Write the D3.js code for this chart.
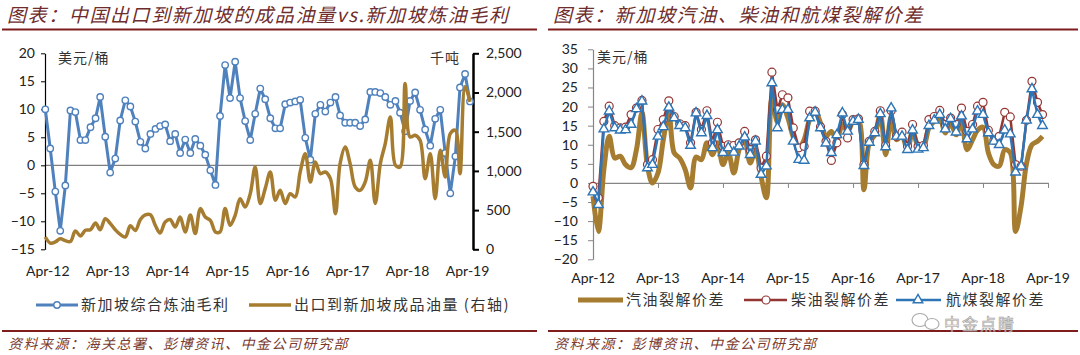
<!DOCTYPE html>
<html><head><meta charset="utf-8">
<script src="https://cdn.jsdelivr.net/npm/d3@7"></script>
<style>
body{margin:0;background:#fff;}
svg{display:block;}
</style></head><body>
<svg id="c" width="1080" height="355"></svg>
<script>
// ---------------- DATA ----------------
// Left chart: monthly, Apr-12 .. May-19
const marginVals = [10.0,3.0,-4.7,-11.7,-3.6,9.8,9.5,4.5,4.5,6.8,8.4,12.2,5.1,-1.3,1.2,8.0,11.6,10.5,7.8,4.2,
  3.0,5.6,6.5,7.0,7.3,4.3,5.6,2.2,4.6,2.2,4.7,3.5,1.9,-0.9,-3.5,8.8,17.9,12.0,18.5,12.0,
  7.9,4.5,9.2,13.7,11.8,8.4,6.6,6.6,10.9,11.2,11.4,11.7,4.9,1.0,9.2,10.8,9.6,11.2,12.2,8.9,
  7.6,7.6,7.6,7.0,8.2,13.1,13.1,12.9,12.2,10.8,11.5,9.4,6.1,11.5,13.0,9.9,6.4,3.5,8.3,9.9,
  2.2,-5.0,1.6,13.9,16.3,11.4];
const exportVols = [157,80,94,136,110,100,234,170,242,250,336,250,391,330,250,190,157,300,240,380,
  440,440,300,208,349,380,285,412,221,437,200,519,412,370,221,221,519,306,434,646,
  540,710,1050,583,774,986,625,752,583,710,667,986,1220,858,1113,965,986,901,455,1093,
  1305,1093,795,752,859,1135,583,1093,1348,1688,1072,1050,2114,1433,1454,1390,901,1220,646,1264,
  922,1475,1517,965,2072,1880];
// Right chart: monthly, Apr-12 .. Mar-19
const gasoline = [-3.5,-12.7,3.5,12.2,6.5,7.0,4.8,4.0,8.7,18.3,4.4,0.0,2.6,11.3,18.3,7.9,6.5,3.5,-1.3,6.8,
  6.1,10.5,7.4,10.5,4.8,7.9,2.6,8.7,11.3,5.2,8.7,1.7,-3.9,22.0,16.0,20.5,17.0,12.0,9.0,11.3,
  16.6,18.8,15.7,12.2,13.5,11.3,15.3,13.5,16.1,16.6,-1.8,10.5,12.6,17.9,7.4,17.4,11.3,12.2,8.7,13.5,
  9.8,9.6,14.4,16.1,17.0,13.1,15.7,12.6,16.1,8.7,11.3,13.8,14.6,7.9,4.8,4.4,8.7,7.9,-12.7,-6.0,
  5.0,10.0,10.9,12.2];
const diesel = [-0.9,-3.9,16.1,20.1,15.0,14.4,14.6,17.9,19.6,21.6,4.8,6.1,14.0,16.6,21.5,17.4,15.5,15.0,10.5,18.5,
  14.0,18.9,10.5,15.9,9.6,10.0,9.8,10.5,13.5,8.7,11.3,3.9,7.0,29.0,19.2,23.1,22.3,14.4,9.2,9.6,
  18.8,18.8,14.7,10.9,5.9,10.5,17.9,11.8,16.6,16.8,4.8,10.9,13.5,18.9,9.8,18.9,12.2,13.3,9.6,15.3,
  9.6,9.8,16.6,17.4,19.0,15.3,17.0,15.3,19.6,13.5,15.3,20.1,21.1,13.8,11.2,12.2,18.5,17.3,4.8,4.4,
  16.4,26.6,21.1,17.9];
const jet = [-2.4,-5.7,14.1,18.8,14.4,13.8,13.9,15.3,19.4,21.4,3.9,4.8,12.2,14.7,19.8,17.0,15.0,14.4,9.8,18.3,
  13.1,17.6,9.2,13.9,7.9,9.2,8.0,9.6,12.0,7.4,10.9,2.2,4.4,26.2,14.4,19.2,19.2,10.9,6.1,5.9,
  17.0,18.5,14.4,10.4,7.9,12.6,18.3,13.5,16.1,16.6,4.5,10.6,13.1,18.1,9.4,19.6,12.2,12.2,8.7,13.8,
  8.8,9.2,15.0,16.4,17.9,14.1,16.8,13.3,17.5,11.5,14.1,18.8,17.9,13.1,10.9,10.0,13.8,12.8,2.8,4.4,
  16.4,24.6,17.9,15.0];
const xTickLabels = ["Apr-12","Apr-13","Apr-14","Apr-15","Apr-16","Apr-17","Apr-18","Apr-19"];
const leftYTicks = [20,15,10,5,0,-5,-10,-15];
const rightYTicks = [0,500,1000,1500,2000,2500];
const crackYTicks = [35,30,25,20,15,10,5,0,-5,-10,-15,-20];
const leftMonths = d3.timeMonth.range(new Date(2012,3,1), new Date(2019,5,1));
const rightMonths = d3.timeMonth.range(new Date(2012,3,1), new Date(2019,3,1));
const tickDates = xTickLabels.map((s,i)=>new Date(2012+i,3,1));

// ---------------- STYLE ----------------
const NUM = "Lato, 'Noto Sans', sans-serif";
const CJK = "'Noto Sans CJK SC', sans-serif";
const TITLE_C = "#6e2c2c", RULE_C = "#7f1d1d", SRC_C = "#7a3b2e";
const BLUE = "#4F81BD", GOLD = "#A67D30", RED = "#943634", JET = "#2E75B6";

const svg = d3.select("#c");

function panelFrame(x0, x1, title, source){
  svg.append("text").attr("x", x0+5).attr("y", 22).text(title)
    .attr("font-family", CJK).attr("font-size", 19).attr("font-style","italic")
    .attr("letter-spacing", 1.6).attr("fill", TITLE_C);
  svg.append("line").attr("x1",x0).attr("x2",x1).attr("y1",29.5).attr("y2",29.5)
    .attr("stroke",RULE_C).attr("stroke-width",2);
  svg.append("line").attr("x1",x0).attr("x2",x1).attr("y1",331).attr("y2",331)
    .attr("stroke",RULE_C).attr("stroke-width",2);
  svg.append("text").attr("x", x0+6).attr("y", 349).text(source)
    .attr("font-family", CJK).attr("font-size", 14).attr("font-style","italic")
    .attr("letter-spacing", 1.5).attr("fill", SRC_C);
}
panelFrame(2, 537, "图表：中国出口到新加坡的成品油量vs.新加坡炼油毛利", "资料来源：海关总署、彭博资讯、中金公司研究部");
panelFrame(548, 1078, "图表：新加坡汽油、柴油和航煤裂解价差", "资料来源：彭博资讯、中金公司研究部");

// ---------------- LEFT CHART ----------------
const xL = d3.scaleTime().domain([leftMonths[0], leftMonths[leftMonths.length-1]]).range([45.3, 470]);
const yL = d3.scaleLinear().domain([-15,20]).range([249.3,53.3]);
const yR = d3.scaleLinear().domain([0,2500]).range([249.3,53.3]);

const gL = svg.append("g");
gL.append("line").attr("x1",45).attr("x2",473).attr("y1",yL(0)).attr("y2",yL(0))
  .attr("stroke","#808080").attr("stroke-width",1.2);

const axL = gL.append("g").attr("transform","translate(45,0)")
  .call(d3.axisLeft(yL).tickValues(leftYTicks).tickSize(4).tickSizeOuter(0).tickPadding(6));
axL.select(".domain").attr("stroke","#000").attr("stroke-width",1.2);
axL.selectAll(".tick line").attr("stroke","#000");
axL.selectAll("text").attr("font-family",NUM).attr("font-size",14).attr("fill","#222");

const axR = gL.append("g").attr("transform","translate(473,0)")
  .call(d3.axisRight(yR).tickValues(rightYTicks).tickSize(6).tickSizeOuter(0).tickPadding(7).tickFormat(d3.format(",")));
axR.select(".domain").attr("stroke","#000").attr("stroke-width",2.5);
axR.selectAll(".tick line").attr("stroke","#000").attr("stroke-width",2);
axR.selectAll("text").attr("font-family",NUM).attr("font-size",14).attr("fill","#222");

gL.selectAll(".xl").data(tickDates).enter().append("text")
  .attr("x",d=>xL(d)+2.5).attr("y",276).attr("text-anchor","middle")
  .attr("font-family",NUM).attr("font-size",14).attr("fill","#222")
  .text((d,i)=>xTickLabels[i]);

gL.append("text").attr("x",58).attr("y",63).text("美元/桶")
  .attr("font-family",CJK).attr("font-size",14).attr("letter-spacing",1).attr("fill","#333");
gL.append("text").attr("x",430).attr("y",63).text("千吨")
  .attr("font-family",CJK).attr("font-size",14).attr("letter-spacing",1).attr("fill","#333");

const lineBlue = d3.line().x((d,i)=>xL(leftMonths[i])).y(d=>yL(d));
gL.append("path").datum(marginVals).attr("d",lineBlue).attr("fill","none")
  .attr("stroke",BLUE).attr("stroke-width",3).attr("stroke-linejoin","round");
gL.selectAll(".mb").data(marginVals).enter().append("circle")
  .attr("cx",(d,i)=>xL(leftMonths[i])).attr("cy",d=>yL(d)).attr("r",3.2)
  .attr("fill","#fff").attr("stroke",BLUE).attr("stroke-width",1.4);

const lineGold = d3.line().x((d,i)=>xL(leftMonths[i])).y(d=>yR(d)).curve(d3.curveCatmullRom.alpha(0.5));
gL.append("path").datum(exportVols).attr("d",lineGold).attr("fill","none")
  .attr("stroke",GOLD).attr("stroke-width",3.5).attr("stroke-linejoin","round");

// legend left
const lgL = svg.append("g");
lgL.append("line").attr("x1",36).attr("x2",78).attr("y1",305).attr("y2",305).attr("stroke",BLUE).attr("stroke-width",3);
lgL.append("circle").attr("cx",57).attr("cy",305).attr("r",3.2).attr("fill","#fff").attr("stroke",BLUE).attr("stroke-width",1.4);
lgL.append("text").attr("x",81).attr("y",310).text("新加坡综合炼油毛利")
  .attr("font-family",CJK).attr("font-size",15).attr("letter-spacing",1.5).attr("fill","#333");
lgL.append("line").attr("x1",249).attr("x2",291).attr("y1",305).attr("y2",305).attr("stroke",GOLD).attr("stroke-width",3.5);
lgL.append("text").attr("x",294).attr("y",310).text("出口到新加坡成品油量 (右轴)")
  .attr("font-family",CJK).attr("font-size",15).attr("letter-spacing",1.5).attr("fill","#333");

// ---------------- RIGHT CHART ----------------
const xC = d3.scaleTime().domain([tickDates[0], tickDates[tickDates.length-1]]).range([593, 1048]);
const yC = d3.scaleLinear().domain([-20,35]).range([259.3,49.3]);
const gC = svg.append("g");

const axC = gC.append("g").attr("transform","translate(593,0)")
  .call(d3.axisLeft(yC).tickValues(crackYTicks).tickSize(5).tickSizeOuter(0).tickPadding(10));
axC.select(".domain").attr("stroke","#868686").attr("stroke-width",1.2);
axC.selectAll(".tick line").attr("stroke","#868686");
axC.selectAll("text").attr("font-family",NUM).attr("font-size",14).attr("fill","#222");

const axX = gC.append("g").attr("transform",`translate(0,${yC(0)})`)
  .call(d3.axisBottom(xC).tickValues(tickDates).tickSize(5).tickSizeOuter(0).tickFormat(""));
axX.select(".domain").attr("stroke","#868686").attr("stroke-width",1.2);
axX.selectAll(".tick line").attr("stroke","#868686");

gC.selectAll(".xc").data(tickDates).enter().append("text")
  .attr("x",d=>xC(d)).attr("y",283).attr("text-anchor","middle")
  .attr("font-family",NUM).attr("font-size",14).attr("fill","#222")
  .text((d,i)=>xTickLabels[i]);

gC.append("text").attr("x",597).attr("y",62).text("美元/桶")
  .attr("font-family",CJK).attr("font-size",14).attr("letter-spacing",1).attr("fill","#333");

const lineGas = d3.line().x((d,i)=>xC(rightMonths[i])).y(d=>yC(d)).curve(d3.curveCatmullRom.alpha(0.5));
gC.append("path").datum(gasoline).attr("d",lineGas).attr("fill","none")
  .attr("stroke",GOLD).attr("stroke-width",5).attr("stroke-linejoin","round");

const lineC = d3.line().x((d,i)=>xC(rightMonths[i])).y(d=>yC(d));
gC.append("path").datum(diesel).attr("d",lineC).attr("fill","none")
  .attr("stroke",RED).attr("stroke-width",2.5).attr("stroke-linejoin","round");
gC.selectAll(".md").data(diesel).enter().append("circle")
  .attr("cx",(d,i)=>xC(rightMonths[i])).attr("cy",d=>yC(d)).attr("r",4)
  .attr("fill","#fff").attr("stroke",RED).attr("stroke-width",1.2);

gC.append("path").datum(jet).attr("d",lineC).attr("fill","none")
  .attr("stroke",JET).attr("stroke-width",2.5).attr("stroke-linejoin","round");
const tri = d3.symbol().type(d3.symbolTriangle).size(40);
gC.selectAll(".mj").data(jet).enter().append("path")
  .attr("d",tri).attr("transform",(d,i)=>`translate(${xC(rightMonths[i])},${yC(d)})`)
  .attr("fill","#fff").attr("stroke",JET).attr("stroke-width",1.4);

// legend right
const LY = 300;
const lgR = svg.append("g");
lgR.append("line").attr("x1",578).attr("x2",623).attr("y1",LY).attr("y2",LY).attr("stroke",GOLD).attr("stroke-width",5);
lgR.append("text").attr("x",626).attr("y",LY+5).text("汽油裂解价差")
  .attr("font-family",CJK).attr("font-size",15).attr("letter-spacing",1.5).attr("fill","#333");
lgR.append("line").attr("x1",744).attr("x2",787).attr("y1",LY).attr("y2",LY).attr("stroke",RED).attr("stroke-width",2.5);
lgR.append("circle").attr("cx",766).attr("cy",LY).attr("r",4).attr("fill","#fff").attr("stroke",RED).attr("stroke-width",1.2);
lgR.append("text").attr("x",791).attr("y",LY+5).text("柴油裂解价差")
  .attr("font-family",CJK).attr("font-size",15).attr("letter-spacing",1.5).attr("fill","#333");
lgR.append("line").attr("x1",896).attr("x2",941).attr("y1",LY).attr("y2",LY).attr("stroke",JET).attr("stroke-width",2.5);
lgR.append("path").attr("d",tri).attr("transform",`translate(918,${LY})`).attr("fill","#fff").attr("stroke",JET).attr("stroke-width",1.4);
lgR.append("text").attr("x",946).attr("y",LY+5).text("航煤裂解价差")
  .attr("font-family",CJK).attr("font-size",15).attr("letter-spacing",1.5).attr("fill","#333");

// watermark (kept just below the legend so texts do not collide)
const wm = svg.append("g").attr("opacity",0.85);
wm.append("ellipse").attr("cx",920).attr("cy",320).attr("rx",8).attr("ry",6.5).attr("fill","none").attr("stroke","#9a9a9a").attr("stroke-width",1.1);
wm.append("ellipse").attr("cx",932).attr("cy",324).attr("rx",7).attr("ry",5.5).attr("fill","#fff").attr("stroke","#9a9a9a").attr("stroke-width",1.1);
wm.append("text").attr("x",944).attr("y",330).text("中金点睛")
  .attr("font-family",CJK).attr("font-size",16).attr("letter-spacing",2).attr("fill","#f4f4f4").attr("stroke","#8f8f8f").attr("stroke-width",0.6);
</script>
</body></html>
